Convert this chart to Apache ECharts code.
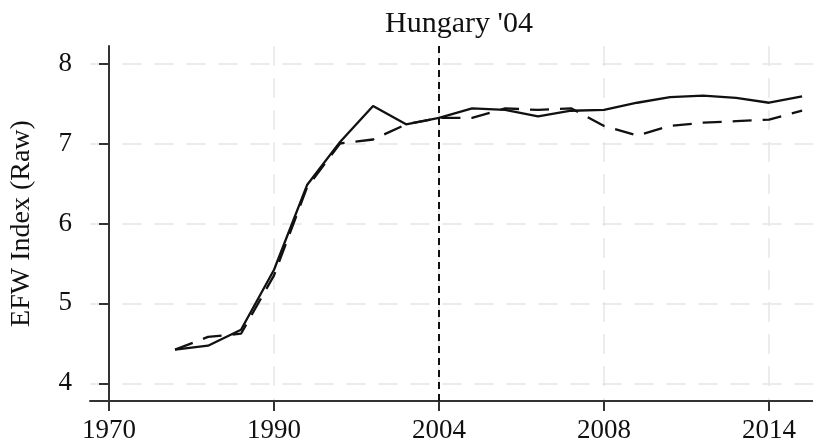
<!DOCTYPE html>
<html>
<head>
<meta charset="utf-8">
<script src="https://cdn.jsdelivr.net/npm/echarts@6/dist/echarts.min.js"></script>
<style>html,body{margin:0;padding:0;background:#fff}#c{width:813px;height:447px}</style>
</head>
<body>
<div id="c"></div>
<script>
// period index (0 = first tick)
const periods = [2,3,4,5,6,7,8,9,10,11,12,13,14,15,16,17,18,19,20,21];
const treated = [4.42,4.47,4.67,5.42,6.48,7.02,7.47,7.24,7.32,7.44,7.42,7.34,7.41,7.42,7.51,7.58,7.60,7.57,7.51,7.59];
const synthetic = [4.42,4.58,4.62,5.35,6.45,7.00,7.05,7.24,7.32,7.32,7.44,7.42,7.44,7.22,7.10,7.22,7.26,7.28,7.30,7.41];
const xTickValues = [0,5,10,15,20];
const xTickLabels = ['1970','1990','2004','2008','2014'];
const yTickValues = [4,5,6,7,8];
const treatmentPeriod = 10;

const font = '"Liberation Serif", "Times New Roman", serif';
const chart = echarts.init(document.getElementById('c'));
const gridStyle = {color:'#e6e6e6', width:1.5, type:[20,12]};
chart.setOption({
  animation:false,
  title:{text:"Hungary '04", left:454, top:4, textAlign:'center',
    textStyle:{fontFamily:font, fontWeight:'normal', fontSize:30, color:'#111'}},
  grid:{left:90, right:0, top:46, bottom:46, containLabel:false, outerBoundsMode:'none'},
  xAxis:{type:'value', min:-0.576, max:21.33,
    axisLine:{lineStyle:{color:'#333', width:2}},
    axisTick:{show:true, length:10, lineStyle:{color:'#333', width:2}, customValues:xTickValues},
    axisLabel:{customValues:xTickValues, formatter:v=>xTickLabels[xTickValues.indexOf(v)],
      fontFamily:font, fontSize:27, color:'#111', margin:16},
    splitLine:{show:true, lineStyle:gridStyle}},
  yAxis:{type:'value', min:3.778, max:8.22,
    name:'EFW Index (Raw)', nameLocation:'middle', nameGap:54,
    nameTextStyle:{fontFamily:font, fontSize:28, color:'#111'},
    axisLine:{show:true, lineStyle:{color:'#333', width:2}},
    axisTick:{show:true, length:10, lineStyle:{color:'#333', width:2}, customValues:yTickValues},
    axisLabel:{customValues:yTickValues, fontFamily:font, fontSize:27, color:'#111', margin:18},
    splitLine:{show:true, lineStyle:gridStyle}},
  series:[
    {type:'line', data:periods.map((p,i)=>[p,synthetic[i]]), showSymbol:false,
      lineStyle:{color:'#111', width:2.3, type:[19,11]}, z:3},
    {type:'line', data:periods.map((p,i)=>[p,treated[i]]), showSymbol:false,
      lineStyle:{color:'#111', width:2.3}, z:4,
      markLine:{silent:true, symbol:['none','none'], label:{show:false},
        lineStyle:{color:'#111', width:2, type:[7,5]},
        data:[{xAxis:treatmentPeriod}]}}
  ]
});
</script>
</body>
</html>
